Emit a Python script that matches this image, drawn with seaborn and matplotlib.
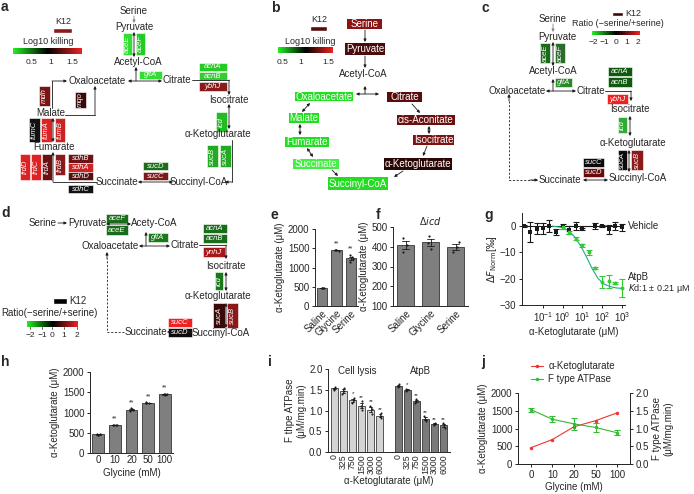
import numpy as np
import pandas as pd
import matplotlib
matplotlib.use('Agg')
import matplotlib.pyplot as plt
import matplotlib.transforms as mtransforms
import seaborn as sns
from matplotlib.patches import Rectangle
from matplotlib.colors import LinearSegmentedColormap

sns.set_theme(style='ticks')
plt.rcParams['font.family'] = ['Liberation Sans', 'DejaVu Sans']
plt.rcParams.update({
    'font.size': 7, 'axes.labelsize': 7, 'xtick.labelsize': 7, 'ytick.labelsize': 7,
    'axes.linewidth': 0.7, 'xtick.major.width': 0.7, 'ytick.major.width': 0.7,
    'xtick.major.size': 2.5, 'ytick.major.size': 2.5, 'xtick.major.pad': 1.5, 'ytick.major.pad': 1.5,
    'axes.labelpad': 2, 'mathtext.fontset': 'dejavusans',
})

# ---------------- data ----------------
# e
e_groups = ['Saline', 'Glycine', 'Serine']
e_saline = [455, 465, 478, 470]
e_glycine = [1440, 1458, 1462, 1445]
e_serine = [1150, 1215, 1280, 1320]
# f (delta icd)
f_saline = [375, 410, 445]
f_glycine = [390, 420, 455]
f_serine = [372, 398, 422]
# g (MST)
veh_conc = [0.011, 0.024, 0.05, 0.1, 0.2, 0.45, 1.0, 2.1, 4.6, 10, 45, 100, 210, 460, 1000]
veh_resp = [0.0, -2.3, -0.9, -0.8, 0.0, -2.2, 0.0, -1.3, 0.1, -1.2, 0.1, 0.0, -1.2, 0.0, -0.5]
veh_err = [0.3, 3.8, 2.0, 2.0, 2.4, 1.0, 1.0, 1.5, 1.4, 0.4, 1.0, 0.3, 1.6, 1.4, 1.4]
atp_conc = [1.0, 2.1, 4.6, 10, 21, 45, 100, 210, 460, 1000]
atp_resp = [-0.5, -2.3, -4.8, -7.3, -10.0, -16.0, -21.3, -21.0, -21.7, -23.6]
atp_err = [0.4, 0.5, 0.6, 0.5, 0.9, 0.4, 2.4, 2.4, 0.3, 3.4]
fit_conc = [0.3, 1, 2, 4, 8, 15, 30, 60, 120, 250, 500, 1000]
fit_resp = [0.0, -0.5, -1.7, -4.0, -7.4, -11.3, -16.0, -19.8, -22.0, -23.0, -23.5, -23.7]
veh_fit_conc = [0.01, 1000]
veh_fit_resp = [0.0, 0.0]
# h
h_glycine = ['0', '10', '20', '50', '100']
h_reps = [[450, 460, 470, 455], [680, 690, 702, 695], [1040, 1070, 1100, 1075],
          [1228, 1240, 1252, 1236], [1438, 1450, 1462, 1446]]
h_stars = ['', '**', '**', '**', '**']
# i
i_conc = ['0', '325', '750', '1500', '3000', '6000']
i_lysis = [[1.50, 1.53, 1.57], [1.40, 1.47, 1.55], [1.18, 1.25, 1.31], [1.02, 1.12, 1.22],
           [0.92, 1.03, 1.12], [0.82, 0.87, 0.93]]
i_atpb = [[1.57, 1.60, 1.63], [1.48, 1.50, 1.53], [1.18, 1.23, 1.28], [0.75, 0.80, 0.86],
          [0.66, 0.68, 0.70], [0.58, 0.64, 0.70]]
i_lysis_stars = ['', '', '*', '**', '**', '**']
i_atpb_stars = ['', '*', '**', '**', '**', '**']
# j
j_glycine = ['0', '10', '20', '50', '100']
j_akg = [460, 690, 1050, 1220, 1440]
j_atpase = [1.53, 1.26, 1.13, 1.03, 0.88]
j_atpase_err = [0.06, 0.08, 0.17, 0.12, 0.07]

# ---------------- figure ----------------
W, H = 694, 494
fig = plt.figure(figsize=(W / 100, H / 100), dpi=100)
ov = fig.add_axes([0, 0, 1, 1])
ov.set_xlim(0, W); ov.set_ylim(H, 0); ov.axis('off')
ov.patch.set_alpha(0)

def px_axes(x0, y0, x1, y1):
    a = fig.add_axes([x0 / W, 1 - y1 / H, (x1 - x0) / W, (y1 - y0) / H])
    a.patch.set_alpha(0)
    return a

def T(x, y, s, fs=7, **kw):
    ov.text(x, y, s, ha='center', va='center', fontsize=fs, **kw)

def G(x0, y0, x1, y1, color, name):
    ov.add_patch(Rectangle((x0, y0), x1 - x0, y1 - y0, facecolor=color, edgecolor='white', lw=0.4))
    rot = 90 if (y1 - y0) > (x1 - x0) else 0
    ov.text((x0 + x1) / 2, (y0 + y1) / 2, name, ha='center', va='center', fontsize=5.5,
            color='white', style='italic', rotation=rot)

def N(x0, y0, x1, y1, color, name):
    ov.add_patch(Rectangle((x0, y0), x1 - x0, y1 - y0, facecolor=color, edgecolor='none'))
    ov.text((x0 + x1) / 2, (y0 + y1) / 2, name, ha='center', va='center', fontsize=7, color='white')

def A(p0, p1, both=False, color='k', ls='-'):
    ov.annotate('', xy=p1, xytext=p0,
                arrowprops=dict(arrowstyle='<|-|>' if both else '-|>', color=color, lw=0.6,
                                mutation_scale=4, shrinkA=0, shrinkB=0, linestyle=ls))

def P(points, both=False, ls='-'):
    xs = [p[0] for p in points[:-1]]; ys = [p[1] for p in points[:-1]]
    ov.plot(xs, ys, color='k', lw=0.6, ls=ls)
    A(points[-2], points[-1], color='k')
    if both:
        A(points[1], points[0], color='k')

def label(x, y, s):
    ov.text(x, y, s, fontsize=10, fontweight='bold', ha='left', va='center')

cmap = LinearSegmentedColormap.from_list('gkr', ['#22ee22', '#000000', '#ee2222'])

def cbar(x0, y0, x1, y1):
    a = px_axes(x0, y0, x1, y1)
    a.imshow(np.linspace(0, 1, 100)[None, :], cmap=cmap, aspect='auto')
    a.axis('off')

# ---------- panel a ----------
label(1, 7, 'a')
T(63, 22, 'K12', fs=6.5)
ov.add_patch(Rectangle((53, 28), 19, 5, facecolor='#8b1a1a'))
T(48, 42, 'Log10 killing', fs=6.5)
cbar(13, 48, 82, 54)
for xx, s in zip([32, 51, 72], ['0.5', '1', '1.5']):
    T(xx, 62, s, fs=6)
T(134, 11, 'Serine')
A((134, 16), (134, 23), color='#888888')
T(134, 27, 'Pyruvate')
G(123, 33, 132, 55, '#33dd33', 'aceE')
G(136, 33, 145, 55, '#22cc22', 'aceF')
A((134, 32), (134, 57), both=True)
T(138, 62, 'Acetyl-CoA')
T(97, 81, 'Oxaloacetate')
T(177, 80, 'Citrate')
A((162, 81), (128, 81), both=True)
A((136, 81), (136, 67))
G(139, 71, 162, 79, '#33dd33', 'gltA')
G(199, 63, 227, 71, '#22cc22', 'acnA')
G(199, 72, 227, 80, '#33cc33', 'acnB')
G(199, 82, 227, 91, '#8b1a1a', 'ybhJ')
P([(192, 80), (229, 80), (229, 95)])
T(229, 100, 'Isocitrate')
A((229, 104), (229, 129), both=True)
G(216, 112, 227, 132, '#22bb22', 'icd')
T(218, 134, 'α-Ketoglutarate')
P([(232, 140), (232, 182), (225, 182)])
G(207, 145, 218, 167, '#22aa22', 'sucB')
G(220, 145, 231, 167, '#22aa22', 'sucA')
T(199, 182, 'Succinyl-CoA')
T(117, 182, 'Succinate')
A((138, 182), (173, 182), both=True)
G(143, 162, 168, 170, '#1a6e1a', 'sucD')
G(143, 172, 168, 180, '#7a1a1a', 'sucC')
P([(97, 182), (53, 182), (53, 152)])
G(68, 154, 93, 163, '#6a1515', 'sdhB')
G(68, 163, 93, 172, '#cc2222', 'sdhA')
G(68, 172, 93, 180, '#551010', 'sdhD')
G(68, 185, 93, 193, '#111111', 'sdhC')
G(20, 154, 30, 180, '#dd2222', 'frdD')
G(31, 154, 41, 180, '#dd2222', 'frdC')
G(42, 154, 52, 180, '#6a1010', 'frdA')
G(55, 154, 65, 175, '#8b1a1a', 'frdB')
T(54, 147, 'Fumarate')
A((53, 118), (53, 142), both=True)
G(29, 118, 40, 142, '#111111', 'fumC')
G(41, 118, 52, 142, '#dd2222', 'fumA')
G(55, 118, 65, 142, '#cc2222', 'fumB')
T(51, 113, 'Malate')
P([(52, 108), (52, 81), (67, 81)])
G(39, 86, 50, 106, '#7a1515', 'mdh')
P([(65, 115), (95, 115), (95, 86)])
G(75, 92, 86, 108, '#3a0a0a', 'mqo')

# ---------- panel b ----------
label(271, 8, 'b')
T(319, 20, 'K12', fs=6.5)
ov.add_patch(Rectangle((310, 26), 17, 5, facecolor='#5a0f0f'))
T(310, 41, 'Log10 killing', fs=6.5)
cbar(278, 47, 333, 53)
for xx, s in zip([283, 301, 328], ['0.5', '1', '1.5']):
    T(xx, 62, s, fs=6)
N(347, 19, 382, 29, '#8b1515', 'Serine')
A((365, 30), (365, 42))
N(345, 43, 385, 55, '#4a0c0c', 'Pyruvate')
A((365, 56), (365, 68))
T(363, 74, 'Acetyl-CoA')
A((365, 94), (365, 86))
A((356, 94), (379, 94), both=True)
N(295, 92, 353, 101, '#22dd22', 'Oxaloacetate')
N(387, 92, 422, 102, '#5a0c0c', 'Citrate')
N(289, 113, 319, 123, '#22dd22', 'Malate')
A((310, 103), (302, 112), both=True)
N(397, 115, 455, 125, '#6a1010', 'cis-Aconitate')
A((412, 104), (420, 113))
N(285, 137, 329, 147, '#22dd22', 'Fumarate')
A((300, 124), (300, 135), both=True)
N(413, 135, 454, 145, '#7a1414', 'Isocitrate')
A((429, 126), (429, 134), both=True)
N(293, 159, 339, 169, '#44ee44', 'Succinate')
A((307, 148), (313, 157), both=True)
N(384, 158, 452, 170, '#2a0606', 'α-Ketoglutarate')
A((427, 146), (423, 156))
N(328, 177, 388, 190, '#22dd22', 'Succinyl-CoA')
A((332, 170), (338, 176))
A((403, 171), (394, 177))

# ---------- panel c ----------
label(482, 8, 'c')
ov.add_patch(Rectangle((612, 12), 11, 4, facecolor='#3a0a0a'))
T(633, 14, 'K12', fs=6.5)
T(618, 24, 'Ratio (−serine/+serine)', fs=6.5)
cbar(592, 31, 640, 35)
for xx, s in zip([593, 604, 616, 627, 638], ['−2', '−1', '0', '1', '2']):
    T(xx, 43, s, fs=6)
T(553, 19, 'Serine')
A((553, 24), (553, 32), color='#888888')
T(557, 37, 'Pyruvate')
G(540, 43, 550, 63, '#1a6b1a', 'aceE')
G(555, 43, 565, 63, '#2b6b2b', 'aceF')
A((553, 42), (553, 66), both=True)
T(553, 71, 'Acetyl-CoA')
T(517, 91, 'Oxaloacetate')
T(591, 91, 'Citrate')
A((576, 91), (546, 91), both=True)
A((553, 91), (553, 79))
G(555, 78, 572, 87, '#2a8a2a', 'gltA')
G(608, 67, 632, 76, '#0f5a0f', 'acnA')
G(608, 77, 632, 87, '#0f5a0f', 'acnB')
G(607, 94, 628, 104, '#ee2222', 'ybhJ')
P([(605, 91), (631, 91), (631, 101)])
T(630, 109, 'Isocitrate')
A((630, 116), (630, 136), both=True)
G(618, 117, 627, 133, '#33aa33', 'icd')
T(633, 143, 'α-Ketoglutarate')
A((629, 150), (629, 172), both=True)
G(618, 150, 627, 170, '#0a0a0a', 'sucA')
G(631, 150, 643, 170, '#8b1a1a', 'sucB')
T(638, 178, 'Succinyl-CoA')
T(560, 180, 'Succinate')
A((583, 180), (608, 180), both=True)
G(583, 158, 604, 167, '#0a0a0a', 'sucC')
G(583, 168, 604, 177, '#6a0a0a', 'sucD')
ov.plot([537, 509, 509], [180, 180, 100], color='k', lw=0.6, ls=(0, (2.5, 2)))
A((509, 101), (509, 94))
A((530, 180), (538, 180))

# ---------- panel d ----------
label(1, 213, 'd')
T(43, 223, 'Serine')
A((58, 223), (67, 223))
T(87, 223, 'Pyruvate')
A((106, 224), (131, 224), both=True)
G(106, 214, 128, 223, '#1a6b1a', 'aceF')
G(106, 225, 128, 235, '#1a6b1a', 'aceE')
T(154, 223, 'Acety-CoA')
T(110, 246, 'Oxaloacetate')
T(185, 245, 'Citrate')
A((170, 246), (139, 246), both=True)
A((146, 246), (146, 232))
G(148, 233, 168, 242, '#1a7a1a', 'gltA')
G(203, 224, 227, 233, '#1a6b1a', 'acnA')
G(203, 234, 227, 243, '#1a6b1a', 'acnB')
G(203, 247, 225, 257, '#aa1515', 'ynhJ')
P([(199, 245), (226, 245), (226, 259)])
T(226, 266, 'Isocitrate')
A((226, 272), (226, 291), both=True)
G(215, 272, 223, 290, '#1a7a1a', 'icd')
T(218, 296, 'α-Ketoglutarate')
A((226, 303), (226, 328), both=True)
G(213, 303, 225, 328, '#3a0a0a', 'sucA')
G(227, 303, 238, 328, '#8b1a1a', 'sucB')
T(221, 333, 'Succinyl-CoA')
T(146, 332, 'Succinate')
A((167, 332), (193, 332), both=True)
G(168, 318, 192, 327, '#ee2222', 'sucC')
G(168, 328, 192, 337, '#0a0a0a', 'sucD')
ov.plot([124, 107, 107], [332, 332, 258], color='k', lw=0.6, ls=(0, (2.5, 2)))
A((107, 259), (107, 252))
ov.add_patch(Rectangle((53, 298), 14, 6, facecolor='#000000'))
T(78, 301, 'K12', fs=7)
T(49, 313, 'Ratio(−serine/+serine)', fs=7)
cbar(27, 321, 78, 327)
for xx, s in zip([30, 42, 52, 64, 77], ['−2', '−1', '0', '1', '2']):
    T(xx, 335, s, fs=6)
    ov.plot([xx, xx], [327, 329], color='k', lw=0.5)

# ---------- panel e ----------
bar_kw = dict(edgecolor='k', linewidth=0.5, errorbar='se', capsize=0.3,
              err_kws={'linewidth': 0.6, 'color': 'k'})
label(271, 215, 'e')
ax = px_axes(315, 229, 358, 306)
df_e = pd.DataFrame({'g': ['Saline'] * len(e_saline) + ['Glycine'] * len(e_glycine) + ['Serine'] * len(e_serine),
                     'v': e_saline + e_glycine + e_serine})
sns.barplot(data=df_e, x='g', y='v', order=e_groups, color='#7f7f7f', width=0.7, ax=ax, **bar_kw)
sns.stripplot(data=df_e, x='g', y='v', order=e_groups, color='k', size=1.6, jitter=0.15, ax=ax)
ax.set_ylim(0, 2000); ax.set_yticks([0, 500, 1000, 1500, 2000])
ax.set_xlabel(''); ax.set_ylabel('α-Ketoglutarate (μM)')
ax.set_xticks(range(3)); ax.set_xticklabels(e_groups, rotation=45, ha='right', rotation_mode='anchor')
ax.tick_params(axis='x', length=0)
for k, s in enumerate(['', '**', '**']):
    vals = [e_saline, e_glycine, e_serine][k]
    ax.text(k, max(vals) + 60, s, ha='center', va='bottom', fontsize=5)
sns.despine(ax=ax)

# ---------- panel f ----------
label(376, 215, 'f')
ax = px_axes(393, 227, 468, 306)
df_f = pd.DataFrame({'g': ['Saline'] * 3 + ['Glycine'] * 3 + ['Serine'] * 3,
                     'v': f_saline + f_glycine + f_serine})
sns.barplot(data=df_f, x='g', y='v', order=e_groups, color='#7f7f7f', width=0.7, ax=ax, **bar_kw)
sns.stripplot(data=df_f, x='g', y='v', order=e_groups, color='k', size=1.6, jitter=0.15, ax=ax)
ax.set_ylim(100, 500); ax.set_yticks([100, 200, 300, 400, 500])
ax.set_xlabel(''); ax.set_ylabel('α-Ketoglutarate (μM)')
ax.set_xticks(range(3)); ax.set_xticklabels(e_groups, rotation=45, ha='right', rotation_mode='anchor')
ax.tick_params(axis='x', length=0)
ax.set_title(r'Δ$\mathit{icd}$', fontsize=7, pad=1)
sns.despine(ax=ax)

# ---------- panel g ----------
label(484, 215, 'g')
ax = px_axes(522, 213, 625, 305)
ax.set_xscale('log')
ax.errorbar(veh_conc, veh_resp, yerr=veh_err, fmt='none', ecolor='k', elinewidth=0.8, capsize=2, capthick=0.8)
ax.errorbar(atp_conc, atp_resp, yerr=atp_err, fmt='none', ecolor='#33cc33', elinewidth=0.8, capsize=2, capthick=0.8)
sns.lineplot(x=veh_fit_conc, y=veh_fit_resp, color='k', lw=0.8, ax=ax)
sns.lineplot(x=fit_conc, y=fit_resp, color='#22aa88', lw=0.8, ax=ax)
sns.scatterplot(x=veh_conc, y=veh_resp, color='k', marker='s', s=7, linewidth=0, ax=ax, zorder=5)
sns.scatterplot(x=atp_conc, y=atp_resp, color='#33cc33', marker='o', s=8, linewidth=0, ax=ax, zorder=5)
ax.set_xlim(0.009, 1400); ax.set_ylim(-30, 5)
ax.set_yticks([0, -10, -20, -30])
ax.set_xticks([0.1, 1, 10, 100, 1000])
ax.set_xlabel('α-Ketoglutarate (μM)')
ax.set_ylabel(r'$\Delta \mathit{F}_{\mathrm{Norm}}$[‰]', labelpad=1)
ax.tick_params(axis='x', which='minor', length=1.5, width=0.5)
tr = mtransforms.blended_transform_factory(ax.transAxes, ax.transData)
ax.text(1.03, 0, 'Vehicle', transform=tr, va='center', ha='left', fontsize=7)
ax.text(1.03, -19.2, 'AtpB', transform=tr, va='center', ha='left', fontsize=7)
ax.text(1.03, -23.9, r'$\mathit{K}$d:1 ± 0.21 μM', transform=tr, va='center', ha='left', fontsize=6.5)
sns.despine(ax=ax)

# ---------- panel h ----------
label(1, 362, 'h')
ax = px_axes(90, 372, 173, 453)
df_h = pd.DataFrame({'g': [c for c, r in zip(h_glycine, h_reps) for _ in r],
                     'v': [v for r in h_reps for v in r]})
sns.barplot(data=df_h, x='g', y='v', order=h_glycine, color='#7f7f7f', width=0.7, ax=ax, **bar_kw)
sns.stripplot(data=df_h, x='g', y='v', order=h_glycine, color='k', size=1.6, jitter=0.15, ax=ax)
for k, s in enumerate(h_stars):
    ax.text(k, max(h_reps[k]) + 50, s, ha='center', va='bottom', fontsize=5)
ax.set_ylim(0, 2000); ax.set_yticks([0, 500, 1000, 1500, 2000])
ax.set_xlabel('Glycine (mM)'); ax.set_ylabel('α-Ketoglutarate (μM)')
ax.tick_params(axis='x', length=0)
sns.despine(ax=ax)

# ---------- panel i ----------
label(268, 362, 'i')
ax = px_axes(328, 369, 450, 452)
lys_keys = ['L' + c for c in i_conc]
atp_keys = ['A' + c for c in i_conc]
order_i = lys_keys + [' '] + atp_keys
df_i = pd.DataFrame({
    'pos': [k for k, r in zip(lys_keys, i_lysis) for _ in r] + [k for k, r in zip(atp_keys, i_atpb) for _ in r],
    'grp': ['Cell lysis'] * sum(len(r) for r in i_lysis) + ['AtpB'] * sum(len(r) for r in i_atpb),
    'v': [v for r in i_lysis for v in r] + [v for r in i_atpb for v in r]})
sns.barplot(data=df_i, x='pos', y='v', order=order_i, hue='grp', dodge=False,
            palette={'Cell lysis': '#d4d4d4', 'AtpB': '#7a7a7a'}, width=0.75, legend=False, ax=ax, **bar_kw)
sns.stripplot(data=df_i, x='pos', y='v', order=order_i, color='k', size=1.5, jitter=0.15, ax=ax)
for k, s in enumerate(i_lysis_stars):
    ax.text(k, max(i_lysis[k]) + 0.03, s, ha='center', va='bottom', fontsize=4.5)
for k, s in enumerate(i_atpb_stars):
    ax.text(k + 7, max(i_atpb[k]) + 0.03, s, ha='center', va='bottom', fontsize=4.5)
ax.set_ylim(0, 2.0); ax.set_yticks([0.0, 0.5, 1.0, 1.5, 2.0])
ax.set_yticklabels(['0.0', '0.5', '1.0', '1.5', '2.0'])
ax.set_xticks(range(len(order_i)))
ax.set_xticklabels(i_conc + [''] + i_conc, rotation=90, fontsize=6.3)
ax.tick_params(axis='x', length=0)
ax.set_xlim(-0.7, len(order_i) - 0.3)
ax.set_xlabel('α-Ketoglutarate (μM)'); ax.set_ylabel('F thpe ATPase\n(μM/mg.min)')
ax.text(2.5, 1.95, 'Cell lysis', ha='center', va='center', fontsize=7)
ax.text(9.5, 1.95, 'AtpB', ha='center', va='center', fontsize=7)
sns.despine(ax=ax)

# ---------- panel j ----------
label(481, 362, 'j')
ax = px_axes(518, 393, 630, 464)
ax2 = ax.twinx()
jx = list(range(len(j_glycine)))
sns.lineplot(x=jx, y=j_akg, color='#ee3333', lw=0.8, marker='o', markersize=2.5,
             markeredgewidth=0, ax=ax, label='α-Ketoglutarate', legend=False)
ax2.errorbar(jx, j_atpase, yerr=j_atpase_err, fmt='none', ecolor='#33bb33', elinewidth=0.8, capsize=2, capthick=0.8)
sns.lineplot(x=jx, y=j_atpase, color='#33bb33', lw=0.8, marker='o', markersize=2.5,
             markeredgewidth=0, ax=ax2, label='F type ATPase', legend=False)
ax.set_ylim(0, 2000); ax.set_yticks([0, 500, 1000, 1500, 2000])
ax2.set_ylim(0, 2.0); ax2.set_yticks([0.0, 0.5, 1.0, 1.5, 2.0])
ax2.set_yticklabels(['0.0', '0.5', '1.0', '1.5', '2.0'])
ax.set_xlim(-0.6, len(jx) - 0.4)
ax.set_xticks(jx); ax.set_xticklabels(j_glycine)
ax.set_xlabel('Glycine (mM)'); ax.set_ylabel('α-Ketoglutarate (μM)')
ax2.set_ylabel('F type ATPase\n(μM/mg.min)')
for a in (ax, ax2):
    a.spines['top'].set_visible(False)
h1, l1 = ax.get_legend_handles_labels()
h2, l2 = ax2.get_legend_handles_labels()
ax.legend(h1 + h2, l1 + l2, loc='upper left', bbox_to_anchor=(0.08, 1.5), frameon=False,
          fontsize=7, handlelength=1.3, handletextpad=0.5, labelspacing=0.3, borderaxespad=0)

fig.savefig('out.png', dpi=100)
